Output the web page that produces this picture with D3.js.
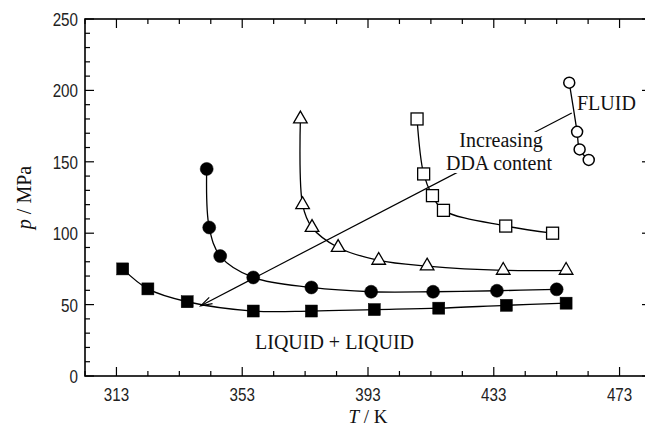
<!DOCTYPE html>
<html>
<head>
<meta charset="utf-8">
<script src="https://cdn.jsdelivr.net/npm/d3@7"></script>
<style>
  html, body { margin: 0; padding: 0; background: #fff; }
  svg { display: block; }
  .tick-label { font-family: "Liberation Sans", Arial, sans-serif; font-size: 19px; fill: #222; }
  .serif { font-family: "Liberation Serif", "Times New Roman", serif; font-size: 20px; fill: #111; }
</style>
</head>
<body>
<svg id="chart" width="645" height="426"></svg>
<script>
// Phase boundary pressures p (MPa) against temperature T (K), one series per DDA content
const filledSquareT = [315, 323, 335.5, 356.5, 375, 395, 415.5, 437, 456];
const filledSquareP = [75, 61, 52, 45.5, 45.5, 46.5, 47.5, 49.5, 51];

const filledCircleT = [341.7, 342.5, 346, 356.5, 375, 394, 413.7, 434, 453];
const filledCircleP = [145, 104, 84, 69, 62, 59, 59, 59.7, 60.7];

const openTriangleT = [371.5, 372.2, 375.2, 383.5, 396.4, 411.8, 436, 456];
const openTriangleP = [180, 120, 104, 90, 81, 77, 74, 74];

const openSquareT = [408.6, 410.7, 413.5, 417, 436.8, 451.7];
const openSquareP = [180, 141.5, 126.3, 116, 105, 100];

const openCircleT = [457, 459.5, 460.3, 463.2];
const openCircleP = [205.4, 171, 158.7, 151.3];

const xTicks = [313, 353, 393, 433, 473];
const yTicks = [0, 50, 100, 150, 200, 250];

// Arrow for increasing DDA content: tail then head, in (T, p)
const arrowT = [457.8, 339.8];
const arrowP = [184.2, 49.2];

const svg = d3.select("#chart");
const x = d3.scaleLinear().domain([303, 483]).range([85, 651]);
const y = d3.scaleLinear().domain([0, 250]).range([376, 19]);

const zip = (a, b) => a.map((v, i) => [v, b[i]]);

// Frame with inward ticks on all four sides
const g = svg.append("g");
const xMinor = d3.range(303, 484, 10);
const yMinor = d3.range(0, 251, 10);
const major = 9, minor = 5;

xMinor.forEach(t => {
  const len = xTicks.includes(t) ? major : minor;
  g.append("line").attr("x1", x(t)).attr("x2", x(t)).attr("y1", y(0)).attr("y2", y(0) - len)
    .attr("stroke", "#000").attr("stroke-width", 1.2);
  g.append("line").attr("x1", x(t)).attr("x2", x(t)).attr("y1", y(250)).attr("y2", y(250) + len)
    .attr("stroke", "#000").attr("stroke-width", 1.2);
});
yMinor.forEach(v => {
  const len = yTicks.includes(v) ? major : minor;
  g.append("line").attr("x1", x(303)).attr("x2", x(303) + len).attr("y1", y(v)).attr("y2", y(v))
    .attr("stroke", "#000").attr("stroke-width", 1.2);
  g.append("line").attr("x1", x(483)).attr("x2", x(483) - len).attr("y1", y(v)).attr("y2", y(v))
    .attr("stroke", "#000").attr("stroke-width", 1.2);
});
g.append("rect").attr("x", x(303)).attr("y", y(250)).attr("width", x(483) - x(303)).attr("height", y(0) - y(250))
  .attr("fill", "none").attr("stroke", "#000").attr("stroke-width", 1.6);

// Tick labels, in a narrow face
const narrow = 0.8;
g.selectAll(".xl").data(xTicks).join("text").attr("class", "tick-label")
  .attr("transform", d => `translate(${x(d)},401) scale(${narrow},1)`)
  .attr("text-anchor", "middle").text(d => d);
g.selectAll(".yl").data(yTicks).join("text").attr("class", "tick-label")
  .attr("transform", d => `translate(78,${y(d) + 7}) scale(${narrow},1)`)
  .attr("text-anchor", "end").text(d => d);

// Axis titles
const xt = svg.append("text").attr("class", "serif").attr("x", x(393)).attr("y", 423)
  .attr("text-anchor", "middle").style("font-size", "19px");
xt.append("tspan").attr("font-style", "italic").text("T");
xt.append("tspan").text(" / K");
const yt = svg.append("text").attr("class", "serif").attr("text-anchor", "middle")
  .attr("transform", `translate(31,${y(125)}) rotate(-90)`);
yt.append("tspan").attr("font-style", "italic").text("p");
yt.append("tspan").text(" / MPa");

// Arrow line (drawn before the labels that sit on top of it)
const ax0 = x(arrowT[0]), ay0 = y(arrowP[0]), ax1 = x(arrowT[1]), ay1 = y(arrowP[1]);
svg.append("line").attr("x1", ax0).attr("y1", ay0).attr("x2", ax1).attr("y2", ay1)
  .attr("stroke", "#000").attr("stroke-width", 1.2);
const ang = Math.atan2(ay0 - ay1, ax0 - ax1);
const headLen = 12, spread = 0.3;
svg.append("path")
  .attr("d", `M${ax1 + headLen * Math.cos(ang + spread)},${ay1 + headLen * Math.sin(ang + spread)} L${ax1},${ay1} L${ax1 + headLen * Math.cos(ang - spread)},${ay1 + headLen * Math.sin(ang - spread)}`)
  .attr("fill", "none").attr("stroke", "#000").attr("stroke-width", 1.2);

// Series curves
const line = d3.line().x(d => x(d[0])).y(d => y(d[1])).curve(d3.curveCatmullRom.alpha(0.5));
const series = [
  { pts: zip(filledSquareT, filledSquareP), shape: "square", fill: "#000" },
  { pts: zip(filledCircleT, filledCircleP), shape: "circle", fill: "#000" },
  { pts: zip(openTriangleT, openTriangleP), shape: "triangle", fill: "#fff" },
  { pts: zip(openSquareT, openSquareP), shape: "square", fill: "#fff" },
  { pts: zip(openCircleT, openCircleP), shape: "circle", fill: "#fff" }
];
series.forEach(s => {
  svg.append("path").attr("d", line(s.pts)).attr("fill", "none").attr("stroke", "#000").attr("stroke-width", 1.3);
});

// Markers
series.forEach(s => {
  const open = s.fill === "#fff";
  const m = svg.append("g").selectAll("g").data(s.pts).join("g")
    .attr("transform", d => `translate(${x(d[0])},${y(d[1])})`);
  if (s.shape === "square") {
    const sz = 12;
    m.append("rect").attr("x", -sz / 2).attr("y", -sz / 2).attr("width", sz).attr("height", sz)
      .attr("fill", s.fill).attr("stroke", "#000").attr("stroke-width", open ? 1.3 : 0.5);
  } else if (s.shape === "circle") {
    m.append("circle").attr("r", open ? 5.5 : 6.5)
      .attr("fill", s.fill).attr("stroke", "#000").attr("stroke-width", open ? 1.5 : 0.5);
  } else {
    m.append("path").attr("d", d3.symbol().type(d3.symbolTriangle).size(80)())
      .attr("fill", s.fill).attr("stroke", "#000").attr("stroke-width", 1.3);
  }
});

// Region and trend labels
svg.append("text").attr("class", "serif").attr("x", 255).attr("y", 349).text("LIQUID + LIQUID");
svg.append("text").attr("class", "serif").attr("x", 577).attr("y", 110).text("FLUID");

const lab = svg.append("g");
const bg = lab.append("rect").attr("fill", "#fff");
const t1 = lab.append("text").attr("class", "serif").attr("x", 501).attr("y", 147).attr("text-anchor", "middle").text("Increasing");
const t2 = lab.append("text").attr("class", "serif").attr("x", 499).attr("y", 170).attr("text-anchor", "middle").text("DDA content");
const b1 = t1.node().getBBox(), b2 = t2.node().getBBox();
const bx0 = Math.min(b1.x, b2.x), bx1 = Math.max(b1.x + b1.width, b2.x + b2.width);
bg.attr("x", bx0).attr("y", b1.y + 3).attr("width", bx1 - bx0).attr("height", b2.y + b2.height - b1.y - 4);
</script>
</body>
</html>
